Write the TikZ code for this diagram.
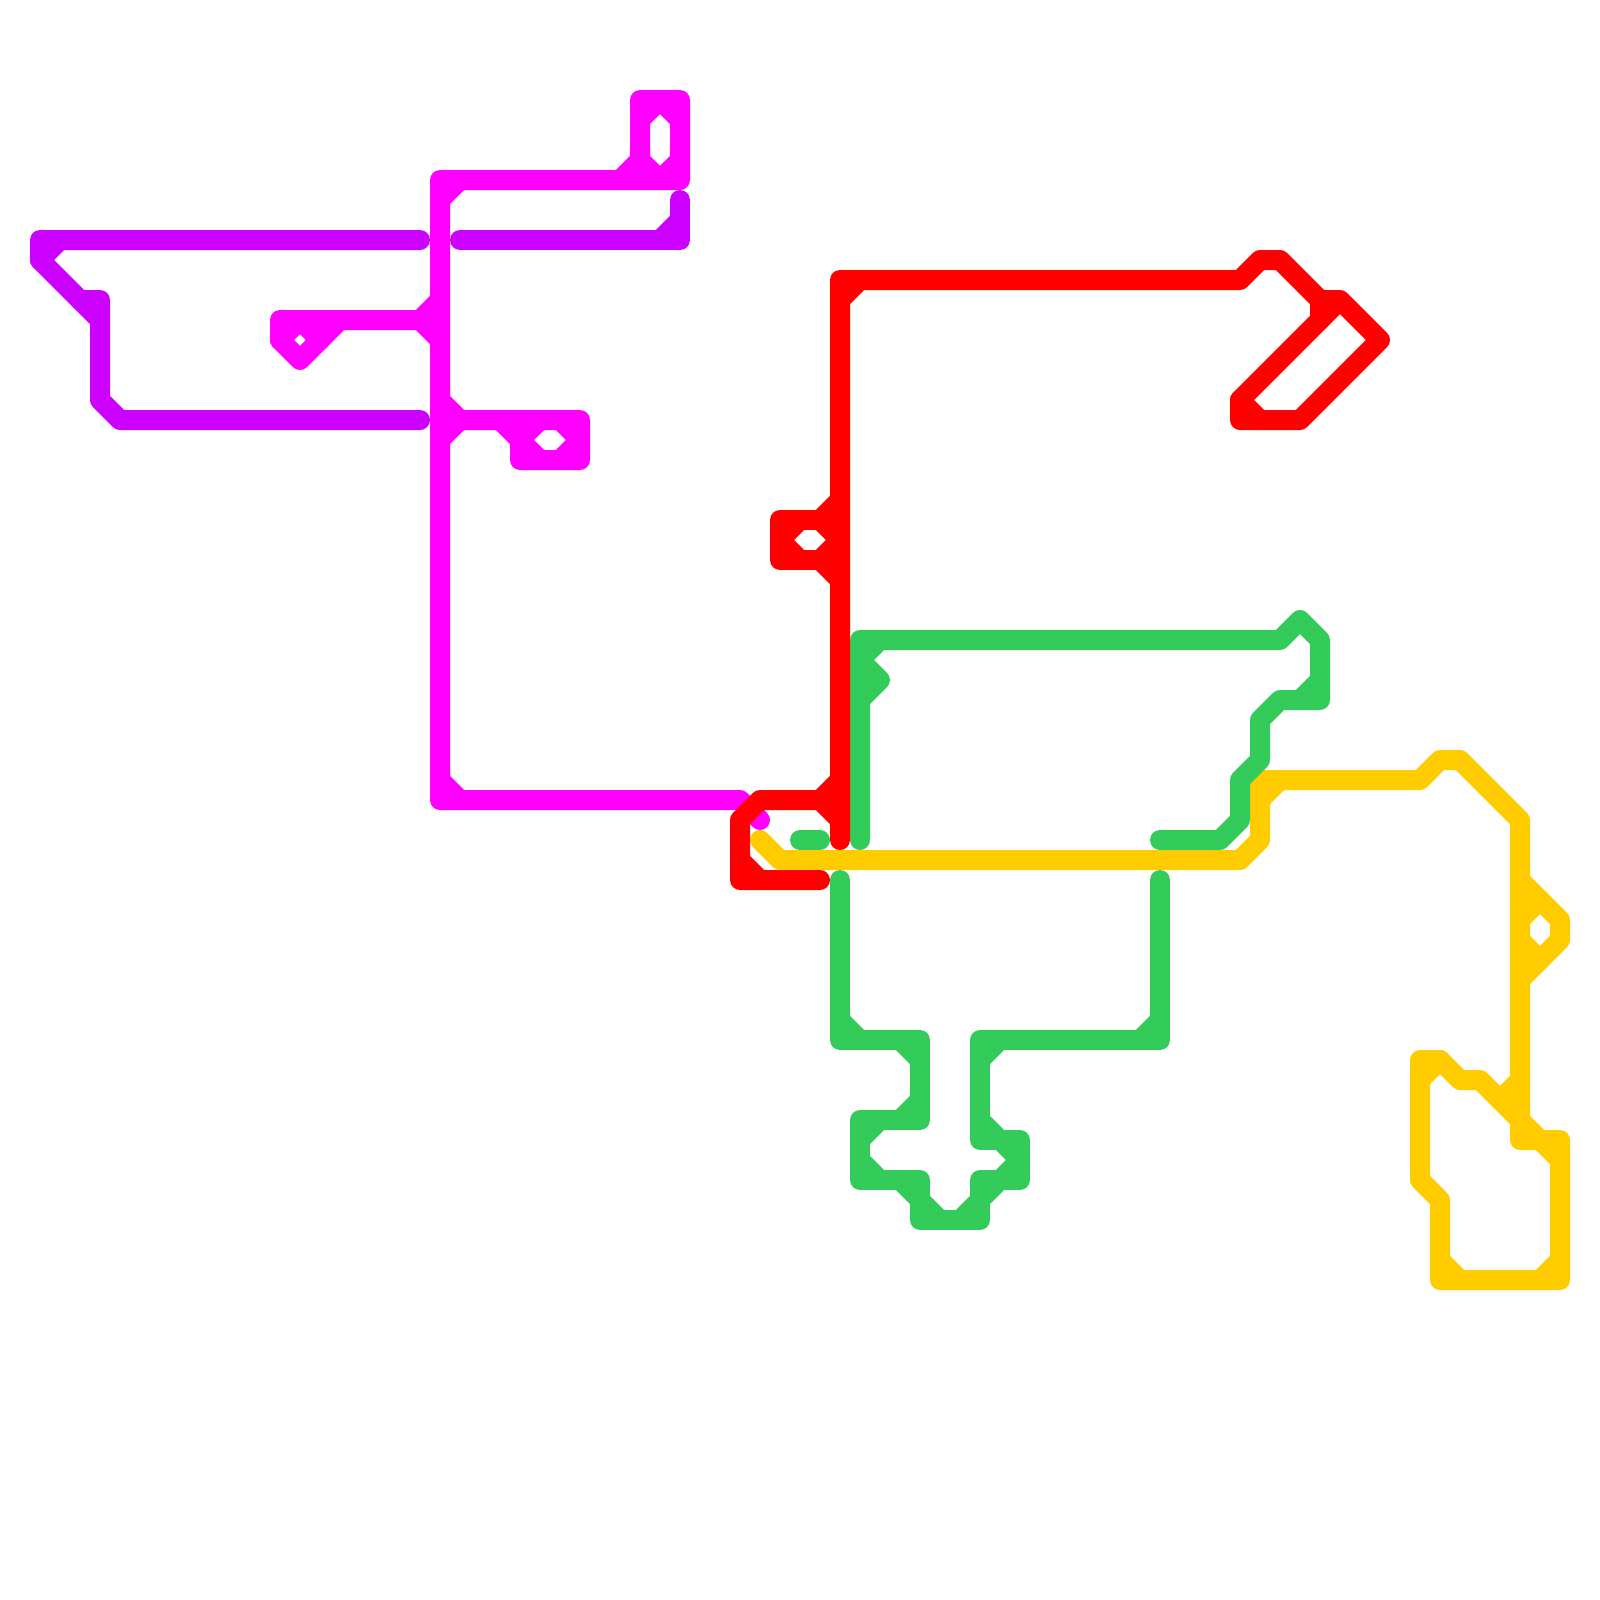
\documentclass[tikz,border=0pt]{standalone}
\usepackage{tikz}
\definecolor{mapmagenta}{HTML}{FF00FF}
\definecolor{mappurple}{HTML}{CC00FF}
\definecolor{mapyellow}{HTML}{FFCC00}
\definecolor{mapgreen}{HTML}{33CC5A}
\definecolor{mapred}{HTML}{FF0000}
\begin{document}
\begin{tikzpicture}[x=2.5mm, y=-2.5mm,
  track/.style={line width=2.5mm, line cap=round, line join=round},
  mgline/.style={track, draw=mapmagenta},
  ppline/.style={track, draw=mappurple},
  ylline/.style={track, draw=mapyellow},
  gnline/.style={track, draw=mapgreen},
  rdline/.style={track, draw=mapred}]
\useasboundingbox (0,0) rectangle (80,80);
% ===== magenta =====
\draw[mgline] (31,9) -- (32,8) -- (32,5) -- (34,5) -- (34,9) -- (22,9) -- (22,40) -- (37,40) -- (38,41);
\draw[mgline] (22,10) -- (23,9);
\draw[mgline] (32,6) -- (33,5) -- (34,6);
\draw[mgline] (32,8) -- (33,9) -- (34,8);
\draw[mgline] (22,39) -- (23,40);
\draw[mgline] (22,16) -- (14,16) -- (14,17) -- (15,18) -- (17,16);
\draw[mgline] (14,17) -- (15,16) -- (16,17);
\draw[mgline] (22,15) -- (21,16) -- (22,17);
\draw[mgline] (22,21) -- (29,21) -- (29,23) -- (26,23) -- (26,22) -- (25,21);
\draw[mgline] (27,21) -- (26,22) -- (27,23);
\draw[mgline] (28,21) -- (29,22) -- (28,23);
\draw[mgline] (22,20) -- (23,21) -- (22,22);
% ===== purple =====
\draw[ppline] (21,12) -- (2,12) -- (2,13) -- (5,16);
\draw[ppline] (2,13) -- (3,12);
\draw[ppline] (4,15) -- (5,15) -- (5,20) -- (6,21) -- (21,21);
\draw[ppline] (23,12) -- (34,12) -- (34,10);
\draw[ppline] (33,12) -- (34,11);
% ===== yellow =====
\draw[ylline] (38,42) -- (39,43) -- (62,43) -- (63,42) -- (63,39) -- (71,39) -- (72,38) -- (73,38) -- (76,41) -- (76,57) -- (78,57) -- (78,64) -- (72,64) -- (72,60) -- (71,59) -- (71,53) -- (72,53) -- (73,54) -- (74,54) -- (76,56);
\draw[ylline] (63,40) -- (64,39);
\draw[ylline] (76,44) -- (78,46) -- (78,47) -- (76,49);
\draw[ylline] (77,45) -- (76,46);
\draw[ylline] (76,47) -- (77,48);
\draw[ylline] (71,54) -- (72,53);
\draw[ylline] (75,55) -- (76,54);
\draw[ylline] (76,56) -- (77,57);
\draw[ylline] (77,57) -- (78,58);
\draw[ylline] (72,63) -- (73,64);
\draw[ylline] (77,64) -- (78,63);
% ===== green =====
\draw[gnline] (43,42) -- (43,32) -- (64,32) -- (65,31) -- (66,32) -- (66,35) -- (64,35) -- (63,36) -- (63,38) -- (62,39) -- (62,41) -- (61,42) -- (58,42);
\draw[gnline] (43,33) -- (44,32);
\draw[gnline] (43,33) -- (44,34) -- (43,35);
\draw[gnline] (65,35) -- (66,34);
\draw[gnline] (40,42) -- (41,42);
\draw[gnline] (42,44) -- (42,52) -- (46,52) -- (46,56) -- (43,56) -- (43,59) -- (46,59) -- (46,61) -- (49,61) -- (49,59) -- (51,59) -- (51,57) -- (49,57) -- (49,52) -- (58,52) -- (58,44);
\draw[gnline] (42,51) -- (43,52);
\draw[gnline] (45,52) -- (46,53);
\draw[gnline] (45,56) -- (46,55);
\draw[gnline] (44,56) -- (43,57);
\draw[gnline] (43,58) -- (44,59);
\draw[gnline] (45,59) -- (46,60) -- (47,61);
\draw[gnline] (48,61) -- (49,60) -- (50,59) -- (51,58) -- (50,57) -- (49,56);
\draw[gnline] (49,53) -- (50,52);
\draw[gnline] (57,52) -- (58,51);
% ===== red =====
\draw[rdline] (42,42) -- (42,14) -- (62,14) -- (63,13) -- (64,13) -- (66,15) -- (67,15) -- (69,17) -- (65,21) -- (62,21) -- (62,20) -- (67,15);
\draw[rdline] (66,15) -- (66,16);
\draw[rdline] (62,20) -- (63,21);
\draw[rdline] (42,15) -- (43,14);
\draw[rdline] (42,26) -- (39,26) -- (39,28) -- (42,28);
\draw[rdline] (40,26) -- (39,27) -- (40,28);
\draw[rdline] (41,26) -- (42,27) -- (41,28);
\draw[rdline] (42,25) -- (41,26);
\draw[rdline] (41,28) -- (42,29);
\draw[rdline] (42,40) -- (38,40) -- (37,41) -- (37,44) -- (41,44);
\draw[rdline] (37,43) -- (38,44);
\draw[rdline] (42,39) -- (41,40) -- (42,41);
\end{tikzpicture}
\end{document}
